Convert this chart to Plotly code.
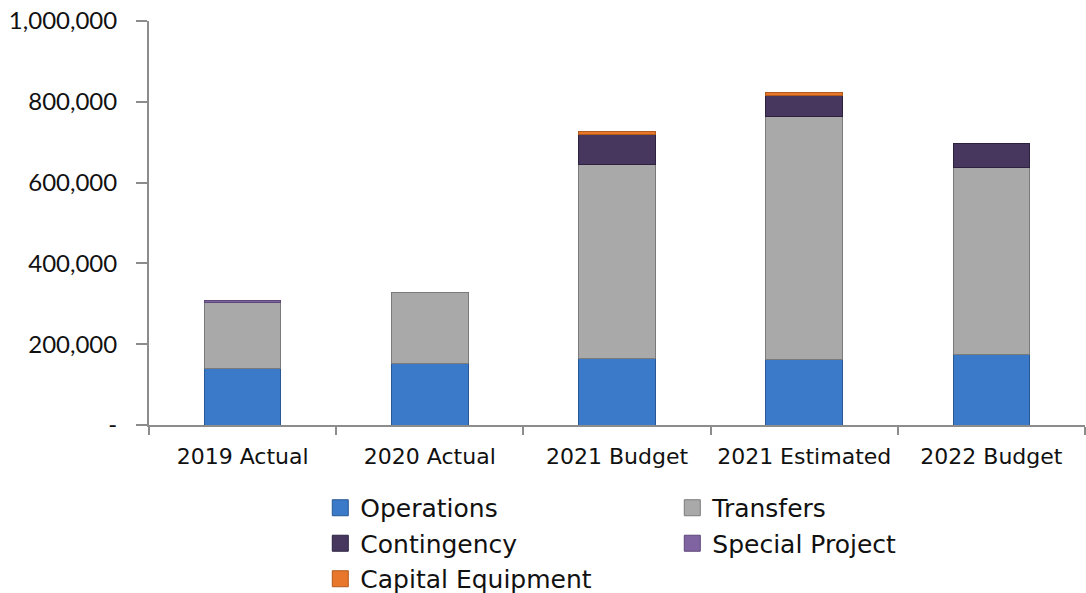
import plotly.graph_objects as go

# Fund expenditures by category, 2019-2022
categories = ["2019 Actual", "2020 Actual", "2021 Budget", "2021 Estimated", "2022 Budget"]
operations = [141000, 153000, 164000, 163000, 174000]
transfers = [162000, 174000, 480000, 600000, 464000]
contingency = [None, None, 76000, 53000, 60000]
special_project = [6000, None, None, None, None]
capital_equipment = [None, None, 6000, 6500, None]

y_tick_values = [0, 200000, 400000, 600000, 800000, 1000000]
y_tick_labels = ["-", "200,000", "400,000", "600,000", "800,000", "1,000,000"]
grid_values = [200000, 400000, 600000, 800000]

series = [
    ("Operations", operations, "#3b7ac9", "#285893"),
    ("Transfers", transfers, "#a9a9a9", "#7a7a7a"),
    ("Contingency", contingency, "#47375f", "#2c2240"),
    ("Special Project", special_project, "#8064a2", "#5c4778"),
    ("Capital Equipment", capital_equipment, "#e8762b", "#b35a1d"),
]

fig = go.Figure()

for name, values, fill, edge in series:
    fig.add_trace(go.Bar(
        x=categories, y=values, name=name, legendgroup=name,
        marker=dict(color=fill, line=dict(color=edge, width=1)),
        showlegend=False,
    ))

# Legend entries with larger square swatches
for name, values, fill, edge in series:
    fig.add_trace(go.Scatter(
        x=[None], y=[None], mode="markers", name=name, legendgroup=name,
        marker=dict(symbol="square", size=17, color=fill, line=dict(color=edge, width=1)),
        showlegend=True,
    ))

axis_grey = "#8c8c8c"

fig.update_layout(
    width=1086, height=593,
    margin=dict(l=149, r=1, t=21, b=168, autoexpand=False),
    paper_bgcolor="white", plot_bgcolor="white",
    barmode="stack", bargap=0.59,
    font=dict(family="DejaVu Sans", size=22, color="#111111"),
    showlegend=True,
    legend=dict(
        orientation="h", x=0.183, xanchor="left", y=-0.1485, yanchor="top",
        font=dict(family="DejaVu Sans", size=25, color="#111111"),
        entrywidth=307, entrywidthmode="pixels", traceorder="normal",
        bgcolor="rgba(0,0,0,0)",
    ),
    xaxis=dict(
        type="category", showline=True, linecolor=axis_grey, linewidth=2,
        ticks="outside", tickson="boundaries", ticklen=8, tickcolor=axis_grey, tickwidth=2,
        showgrid=False, ticklabelstandoff=11,
        tickfont=dict(family="DejaVu Sans", size=22, color="#111111"),
    ),
    yaxis=dict(
        range=[0, 1000000], tickvals=y_tick_values, ticktext=y_tick_labels,
        showline=True, linecolor=axis_grey, linewidth=2,
        ticks="outside", ticklen=11, tickcolor=axis_grey, tickwidth=2,
        showgrid=False, zeroline=False, ticklabelstandoff=14,
        tickfont=dict(family="Lato", size=24, color="#111111"),
    ),
    yaxis2=dict(
        overlaying="y", anchor="x", range=[0, 1000000], tickvals=grid_values,
        showgrid=True, gridcolor=axis_grey, gridwidth=2,
        showticklabels=False, ticks="", showline=False, zeroline=False,
    ),
)

fig.write_html("out.html")
